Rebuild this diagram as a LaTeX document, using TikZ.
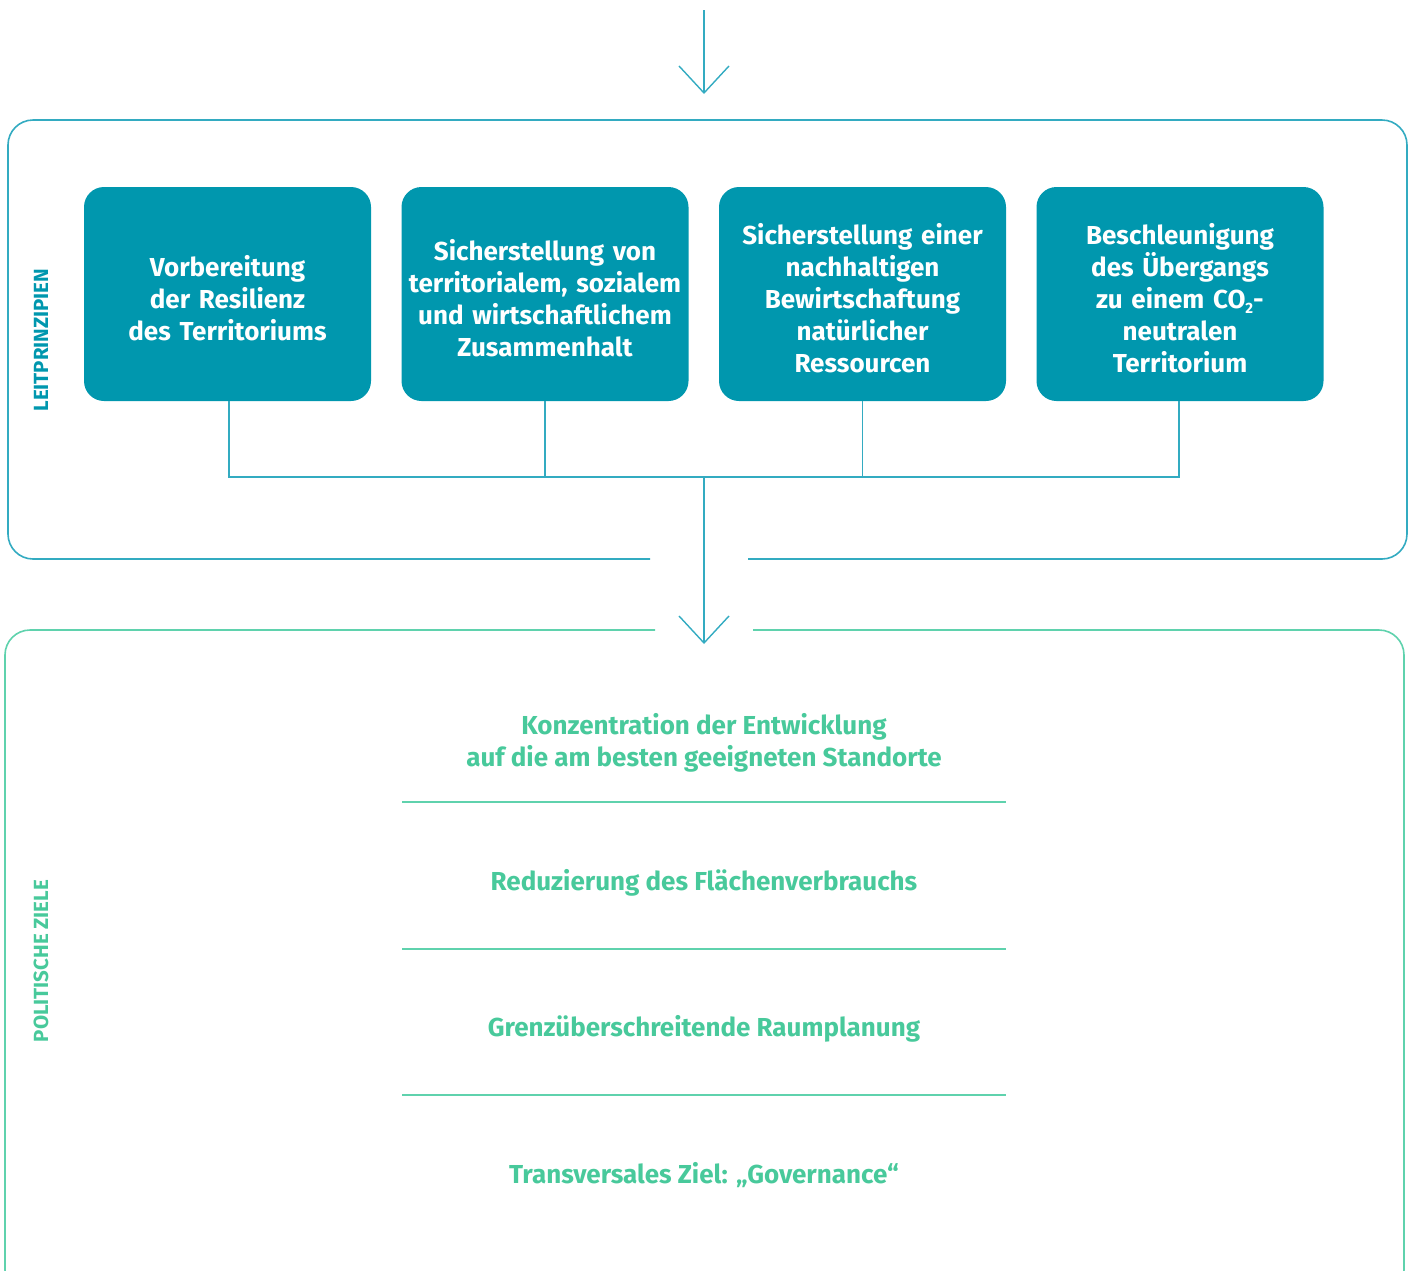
\documentclass[tikz,border=0pt]{standalone}
\usepackage{fontspec}
\setmainfont{Fira Sans}
\usetikzlibrary{arrows.meta}
\definecolor{boxteal}{HTML}{0097AE}
\definecolor{lineteal}{HTML}{33ABC1}
\definecolor{txtgreen}{HTML}{48C99B}
\definecolor{linegreen}{HTML}{5FD2AD}
\newcommand{\subtwo}{\raisebox{-0.35ex}{\fontsize{15}{15}\selectfont 2}}
\begin{document}
\begin{tikzpicture}[x=1pt,y=-1pt,
  prin/.style={fill=boxteal, rounded corners=20pt, minimum width=287pt, minimum height=214pt, inner sep=0pt},
  printxt/.style={text width=284pt, align=center, text=white, font=\fontsize{26}{32}\selectfont\bfseries, inner sep=0pt},
  goal/.style={text=txtgreen, align=center, font=\fontsize{26}{32}\selectfont\bfseries},
  side/.style={rotate=90, font=\fontsize{20.5}{22}\selectfont\bfseries},
  conn/.style={draw=lineteal, line width=1.4pt},
  flow/.style={draw=lineteal, line width=1.4pt, -{Straight Barb[length=27pt 0, width=50pt 0, line width=1.4pt]}},
  sep/.style={draw=linegreen, line width=1.4pt}]
\useasboundingbox (0,0) rectangle (1413,1270);
\clip (0,0) rectangle (1413,1270);

% top frame
\draw[lineteal, line width=1.6pt, rounded corners=25pt] (650,559) -- (8,559) -- (8,120) -- (1407,120) -- (1407,559) -- (748,559);
% bottom frame
\draw[linegreen, line width=1.6pt, rounded corners=25pt] (655,630) -- (5,630) -- (5,1295) -- (1404,1295) -- (1404,630) -- (753,630);

% top arrow
\coordinate (topstart) at (704,10);
\coordinate (toptip) at (704,94);
\draw[flow] (topstart) -- (toptip);

% side labels
\node[side, text=boxteal] (lp) at (41,340) {LEITPRINZIPIEN};
\node[side, text=txtgreen] (pz) at (41,961) {POLITISCHE ZIELE};

% principle boxes
\node[prin] (b1) at (227.5,294) {};
\node[prin] (b2) at (545,294) {};
\node[prin] (b3) at (862.5,294) {};
\node[prin] (b4) at (1180,294) {};
\node[printxt] (t1) at ([yshift=-4pt]b1.center) {Vorbereitung\\der Resilienz\\des Territoriums};
\node[printxt] (t2) at ([yshift=-4pt]b2.center) {Sicherstellung von\\territorialem, sozialem\\und wirtschaftlichem\\Zusammenhalt};
\node[printxt] (t3) at ([yshift=-4pt]b3.center) {Sicherstellung einer\\nachhaltigen\\Bewirtschaftung\\natürlicher\\Ressourcen};
\node[printxt] (t4) at ([yshift=-4pt]b4.center) {Beschleunigung\\des Übergangs\\zu einem CO\subtwo-\\neutralen\\Territorium};

% connectors
\coordinate (j1) at (229,477);
\coordinate (j4) at (1179,477);
\coordinate (jc) at (704,477);
\coordinate (tip2) at (704,644);
\draw[conn] (b1.south -| j1) -- (j1) -- (j4) -- (b4.south -| j4);
\draw[conn] (b2.south) -- (b2.south |- jc);
\draw[conn] (b3.south) -- (b3.south |- jc);
\draw[flow] (jc) -- (tip2);

% goals
\node[goal] (g1) at (704,743) {Konzentration der Entwicklung\\auf die am besten geeigneten Standorte};
\node[goal] (g2) at (704,883) {Reduzierung des Flächenverbrauchs};
\node[goal] (g3) at (704,1029) {Grenzüberschreitende Raumplanung};
\node[goal] (g4) at (704,1175) {Transversales Ziel: „Governance“};

\coordinate (s1l) at (402,802); \coordinate (s1r) at (1006,802);
\coordinate (s2l) at (402,949); \coordinate (s2r) at (1006,949);
\coordinate (s3l) at (402,1095); \coordinate (s3r) at (1006,1095);
\draw[sep] (s1l) -- (s1r);
\draw[sep] (s2l) -- (s2r);
\draw[sep] (s3l) -- (s3r);
\end{tikzpicture}
\end{document}
